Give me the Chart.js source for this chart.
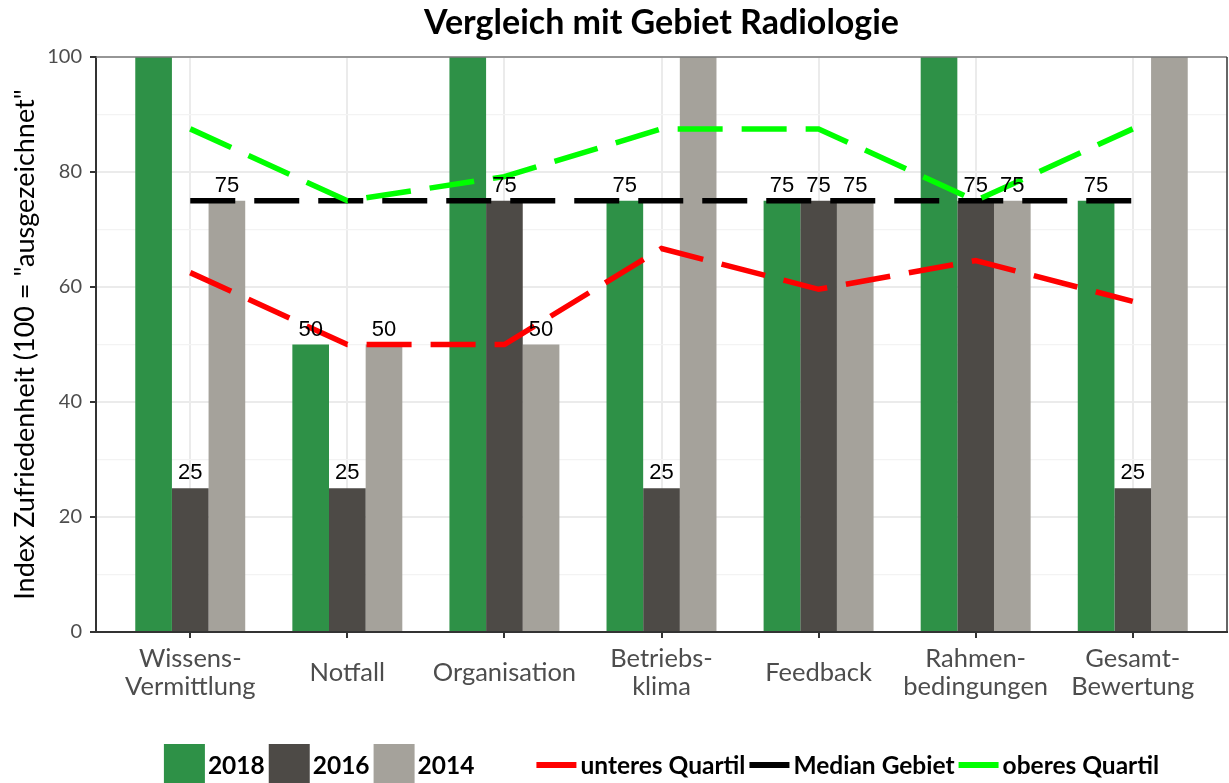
<!DOCTYPE html>
<html><head><meta charset="utf-8">
<script src="https://cdn.jsdelivr.net/npm/chart.js@4/dist/chart.umd.min.js"></script>
<style>html,body{margin:0;padding:0;background:#fff;}</style>
</head><body>
<canvas id="c" width="1229" height="783" style="display:block;width:1229px;height:783px"></canvas>
<script>
// ---- data ----
const categories = [["Wissens-","Vermittlung"],["Notfall"],["Organisation"],["Betriebs-","klima"],["Feedback"],["Rahmen-","bedingungen"],["Gesamt-","Bewertung"]];
const values2018 = [100, 50, 100, 75, 75, 100, 75];
const values2016 = [25, 25, 75, 25, 75, 75, 25];
const values2014 = [75, 50, 50, 100, 75, 75, 100];
const unteresQuartil = [62.5, 50, 50, 66.7, 59.6, 64.6, 57.5];
const medianGebiet = [75, 75, 75, 75, 75, 75, 75];
const oberesQuartil = [87.5, 75, 79.2, 87.5, 87.5, 75, 87.5];
const yTickLabels = [0, 20, 40, 60, 80, 100];

const pts = arr => arr.map((v, i) => ({x: i, y: v}));
const lineBase = {type: 'line', borderWidth: 5.5, borderDash: [45, 19], pointRadius: 0, pointHoverRadius: 0, fill: false, tension: 0, borderCapStyle: 'butt', borderJoinStyle: 'miter'};

// split multiline labels on a half-line grid so single-line labels sit centered
function tickLines(i) {
  const c = categories[i];
  if (!c) return '';
  return c.length === 2 ? [c[0], '', c[1]] : ['', c[0]];
}

const borderPlugin = {
  id: 'panelBorder',
  afterDatasetsDraw(chart) {
    const {ctx, chartArea: a} = chart;
    ctx.save();
    ctx.strokeStyle = '#7a7a7a'; ctx.lineWidth = 1.5;
    ctx.beginPath(); ctx.moveTo(a.left, a.top); ctx.lineTo(a.right, a.top); ctx.stroke();
    ctx.strokeStyle = '#333'; ctx.beginPath(); ctx.moveTo(a.right, a.top); ctx.lineTo(a.right, a.bottom); ctx.stroke();
    // value labels
    ctx.beginPath(); ctx.rect(a.left, a.top, a.right - a.left, a.bottom - a.top); ctx.clip();
    ctx.fillStyle = '#000';
    ctx.font = '22px "Liberation Sans", Arial, sans-serif';
    ctx.textAlign = 'center'; ctx.textBaseline = 'alphabetic';
    chart.data.datasets.forEach((ds, di) => {
      if (ds.type === 'line') return;
      const meta = chart.getDatasetMeta(di);
      meta.data.forEach((el, j) => {
        ctx.fillText(String(ds.data[j].y), el.x, el.y - 9);
      });
    });
    ctx.restore();
  }
};

const legendPlugin = {
  id: 'ggLegend',
  afterDraw(chart) {
    const {ctx, chartArea: a} = chart;
    const ds = chart.data.datasets;
    const bars = ds.filter(d => d.type !== 'line');
    const lines = ds.filter(d => d.type === 'line').slice().reverse();
    ctx.save();
    ctx.font = 'bold 24.5px Lato, sans-serif';
    const keyW = 41, gapKT = 3, gapItem = 4, groupGap = 62;
    const w = t => ctx.measureText(t).width;
    let total = 0;
    const groups = [bars, lines];
    groups.forEach((g, gi) => {
      g.forEach((d, k) => { total += keyW + gapKT + w(d.label) + (k < g.length - 1 ? gapItem : 0); });
      if (gi === 0) total += groupGap;
    });
    let x = (a.left + a.right) / 2 - total / 2;
    const top = 744, mid = 765;
    ctx.textBaseline = 'middle'; ctx.textAlign = 'left';
    groups.forEach((g, gi) => {
      g.forEach((d, k) => {
        if (d.type === 'line') {
          ctx.strokeStyle = d.borderColor; ctx.lineWidth = 6;
          ctx.beginPath(); ctx.moveTo(x, mid); ctx.lineTo(x + keyW - 1, mid); ctx.stroke();
        } else {
          ctx.fillStyle = d.backgroundColor;
          ctx.fillRect(x, top, keyW, 41);
        }
        x += keyW + gapKT;
        ctx.fillStyle = '#000';
        ctx.fillText(d.label, x, mid + 1);
        x += w(d.label) + (k < g.length - 1 ? gapItem : 0);
      });
      if (gi === 0) x += groupGap;
    });
    ctx.restore();
  }
};

new Chart(document.getElementById('c').getContext('2d'), {
  type: 'bar',
  data: {
    datasets: [
      Object.assign({}, lineBase, {label: 'oberes Quartil', data: pts(oberesQuartil), borderColor: '#00FF00', order: 0}),
      Object.assign({}, lineBase, {label: 'Median Gebiet', data: pts(medianGebiet), borderColor: '#000000', order: 1}),
      Object.assign({}, lineBase, {label: 'unteres Quartil', data: pts(unteresQuartil), borderColor: '#FF0000', order: 2}),
      {label: '2018', data: pts(values2018), backgroundColor: '#2E9147', order: 3},
      {label: '2016', data: pts(values2016), backgroundColor: '#4D4A46', order: 4},
      {label: '2014', data: pts(values2014), backgroundColor: '#A5A29B', order: 5}
    ]
  },
  options: {
    responsive: false,
    animation: false,
    devicePixelRatio: 1,
    categoryPercentage: 0.7,
    barPercentage: 1,
    layout: {padding: {left: 0, right: 2, top: 0, bottom: 0}},
    plugins: {
      legend: {display: false},
      tooltip: {enabled: false},
      title: {
        display: true, fullSize: false,
        text: 'Vergleich mit Gebiet Radiologie',
        color: '#000',
        font: {family: 'Lato', size: 34, weight: 'bold', lineHeight: 1.2},
        padding: {top: 3, bottom: 13.2}
      }
    },
    scales: {
      x: {
        type: 'linear', min: -0.6, max: 6.6, offset: false,
        afterBuildTicks: s => { s.ticks = categories.map((c, i) => ({value: i})); },
        afterFit: s => { s.height = 151; },
        grid: {offset: false, color: '#EBEBEB', lineWidth: 2, tickColor: '#333', tickLength: 6, tickWidth: 2},
        border: {color: '#333', width: 2},
        ticks: {
          autoSkip: false, maxRotation: 0, minRotation: 0, padding: 14,
          color: '#4D4D4D', font: {family: 'Lato', size: 25.5, lineHeight: '14px'},
          callback: v => tickLines(Math.round(v))
        }
      },
      y: {
        min: 0, max: 100,
        afterFit: s => { s.width = 96; },
        grid: {
          color: c => (c.tick && c.tick.value % 20 === 0) ? '#EBEBEB' : '#F3F3F3',
          lineWidth: c => (c.tick && c.tick.value % 20 === 0) ? 2 : 1.2,
          tickColor: c => (c.tick && yTickLabels.includes(c.tick.value)) ? '#333' : 'rgba(0,0,0,0)',
          tickLength: 6, tickWidth: 2
        },
        border: {color: '#333', width: 2},
        ticks: {
          stepSize: 10, padding: 8, color: '#4D4D4D',
          font: {family: 'Lato', size: 20},
          callback: v => yTickLabels.includes(v) ? String(v) : ''
        },
        title: {
          display: true, text: 'Index Zufriedenheit (100 = "ausgezeichnet"',
          color: '#000', font: {family: 'Lato', size: 27, lineHeight: 1.2},
          padding: {top: 9, bottom: 0}
        }
      }
    }
  },
  plugins: [borderPlugin, legendPlugin]
});
</script>
</body></html>
